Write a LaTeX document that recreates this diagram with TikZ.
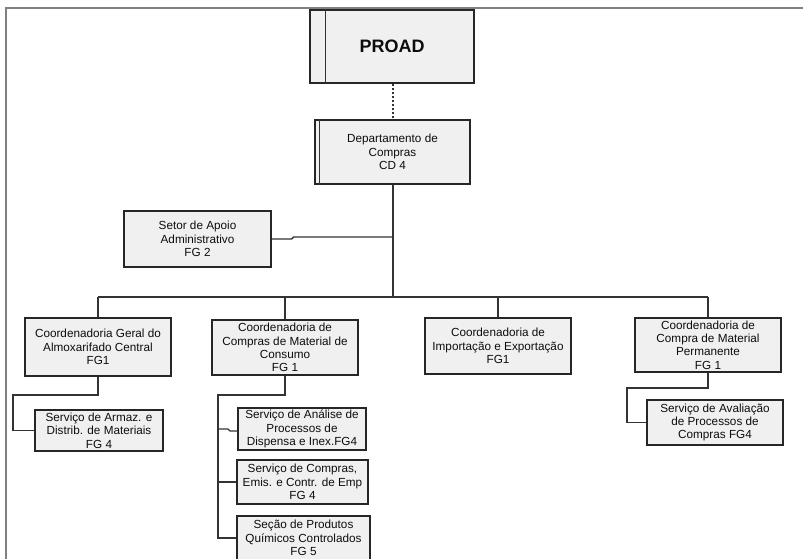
\documentclass[tikz,border=0pt]{standalone}
\usepackage{fontspec}
\setmainfont{Liberation Sans}
\usetikzlibrary{calc}
\definecolor{boxfill}{HTML}{F0F0F0}
\definecolor{framegray}{HTML}{808080}
\tikzset{
  orgbox/.style={draw=black!85, fill=boxfill, line width=1pt, align=center,
    inner sep=1pt, text=black!95, font=\fontsize{8.8}{10}\selectfont},
  orgline/.style={line width=1pt, black!80}
}
\begin{document}
\begin{tikzpicture}[x=0.75pt, y=-0.75pt]
    \useasboundingbox (0,0) rectangle (803,558);
    % Frame
    \draw[line width=1.4pt, framegray] (6,570) -- (6,8) -- (810,8);
    %
    \node[orgbox, minimum width=123pt, minimum height=54.75pt,
      font=\fontsize{13.5}{15}\selectfont\bfseries] (proad) at (392,46.5) {PROAD};
    \draw[orgline] ([xshift=12pt]proad.north west) -- ([xshift=12pt]proad.south west);
    \node[orgbox, minimum width=116.25pt, minimum height=48pt] (depto) at (392.5,152)
      {Departamento de\\Compras\\CD 4};
    \draw[orgline] ([xshift=3.75pt]depto.north west) -- ([xshift=3.75pt]depto.south west);
    \node[orgbox, minimum width=110.25pt, minimum height=42pt] (apoio) at (197.5,239)
      {Setor de Apoio\\Administrativo\\FG 2};
    %
    \node[orgbox, minimum width=109.5pt, minimum height=43.5pt] (almox) at (98,347)
      {Coordenadoria Geral do\\Almoxarifado Central\\FG1};
    \node[orgbox, minimum width=96pt, minimum height=30.75pt] (armaz) at (99,430.5)
      {Serviço de Armaz. e\\Distrib. de Materiais\\FG 4};
    %
    \node[orgbox, minimum width=109.5pt, minimum height=41.25pt] (consumo) at (285,347.5)
      {Coordenadoria de\\Compras de Material de\\Consumo\\FG 1};
    \node[orgbox, minimum width=96pt, minimum height=31.5pt] (analise) at (302,429)
      {Serviço de Análise de\\Processos de\\Dispensa e Inex.FG4};
    \node[orgbox, minimum width=98.25pt, minimum height=33pt] (emis) at (302.5,482)
      {Serviço de Compras,\\Emis. e Contr. de Emp\\FG 4};
    \node[orgbox, minimum width=99.75pt, minimum height=33pt] (quimicos) at (303.5,538)
      {Seção de Produtos\\Químicos Controlados\\FG 5};
    %
    \node[orgbox, minimum width=109.5pt, minimum height=42pt] (import) at (498,346)
      {Coordenadoria de\\Importação e Exportação\\FG1};
    %
    \node[orgbox, minimum width=109.5pt, minimum height=40.5pt] (perm) at (708,345)
      {Coordenadoria de\\Compra de Material\\Permanente\\FG 1};
    \node[orgbox, minimum width=102pt, minimum height=33.75pt] (aval) at (715,422.5)
      {Serviço de Avaliação\\de Processos de\\Compras FG4};
    % Connectors
    \coordinate (bus) at (393,297);
    \coordinate (apoiojoin) at (393,237);
    \coordinate (almoxrail) at (13,395);
    \coordinate (consrail) at (218,395);
    \coordinate (permrail) at (627,388);
    \draw[orgline, dashed, dash pattern=on 2pt off 1pt] (proad.south -| bus) -- (depto.north -| bus);
    \draw[orgline] (depto.south -| bus) -- (bus);
    \draw[orgline] (apoio.east) -- ++(20,0) -- ++(2,-2) -- (apoiojoin);
    \draw[orgline] (almox.north |- bus) -- (perm.north |- bus);
    \foreach \n in {almox, consumo, import, perm}
      \draw[orgline] (\n.north) -- (\n.north |- bus);
    %
    \draw[orgline] (almox.south) |- (almoxrail) -- (almoxrail |- armaz.west) -- (armaz.west);
    %
    \draw[orgline] (consumo.south) |- (consrail) -- (consrail |- quimicos.west) -- (quimicos.west);
    \draw[orgline] (consrail |- {0,429}) -- ++(10,0) -- ++(2,2) -- (analise.west |- {0,431});
    \draw[orgline] (consrail |- emis.west) -- (emis.west);
    %
    \draw[orgline] (perm.south) |- (permrail) -- (permrail |- aval.west) -- (aval.west);
\end{tikzpicture}
\end{document}
